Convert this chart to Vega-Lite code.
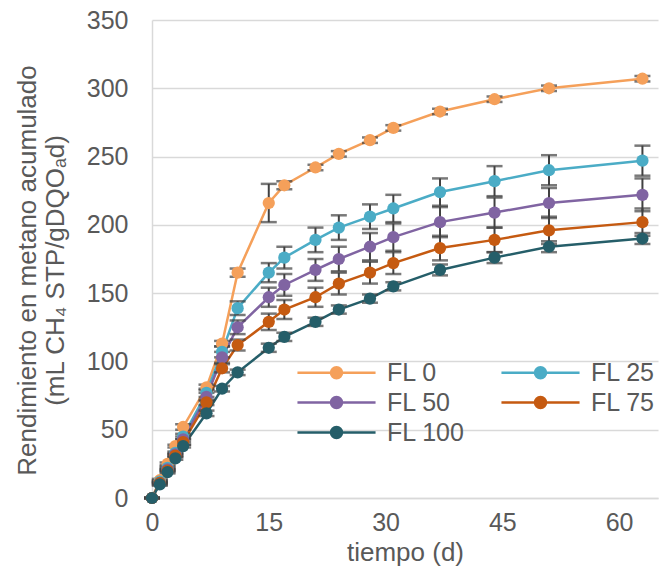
{
  "$schema": "https://vega.github.io/schema/vega-lite/v6.json",
  "width": 506,
  "height": 478,
  "autosize": {"type": "none"},
  "padding": {"left": 152, "top": 20, "right": 7, "bottom": 80},
  "background": "white",
  "config": {
    "view": {"stroke": null},
    "font": "Liberation Sans",
    "axis": {"labelColor": "#595959", "titleColor": "#595959", "labelFontSize": 25, "titleFontSize": 26, "titleFontWeight": "normal", "ticks": false, "tickSize": 0, "domainColor": "#D9D9D9", "domainWidth": 1.5, "gridColor": "#D9D9D9", "gridWidth": 1.5, "labelFlush": false}
  },
  "data": {"values": [
    {"s": "FL 0", "t": 0, "v": 0, "e": 0}, {"s": "FL 0", "t": 1, "v": 13, "e": 1}, {"s": "FL 0", "t": 2, "v": 25, "e": 1}, {"s": "FL 0", "t": 3, "v": 38, "e": 1}, {"s": "FL 0", "t": 4, "v": 52, "e": 2}, {"s": "FL 0", "t": 7, "v": 81, "e": 2}, {"s": "FL 0", "t": 9, "v": 113, "e": 2}, {"s": "FL 0", "t": 11, "v": 165, "e": 3}, {"s": "FL 0", "t": 15, "v": 216, "e": 14}, {"s": "FL 0", "t": 17, "v": 229, "e": 3}, {"s": "FL 0", "t": 21, "v": 242, "e": 2}, {"s": "FL 0", "t": 24, "v": 252, "e": 2}, {"s": "FL 0", "t": 28, "v": 262, "e": 2}, {"s": "FL 0", "t": 31, "v": 271, "e": 2}, {"s": "FL 0", "t": 37, "v": 283, "e": 2}, {"s": "FL 0", "t": 44, "v": 292, "e": 2}, {"s": "FL 0", "t": 51, "v": 300, "e": 2}, {"s": "FL 0", "t": 63, "v": 307, "e": 2},
    {"s": "FL 25", "t": 0, "v": 0, "e": 0}, {"s": "FL 25", "t": 1, "v": 12, "e": 1}, {"s": "FL 25", "t": 2, "v": 22, "e": 1}, {"s": "FL 25", "t": 3, "v": 33, "e": 1}, {"s": "FL 25", "t": 4, "v": 45, "e": 2}, {"s": "FL 25", "t": 7, "v": 77, "e": 3}, {"s": "FL 25", "t": 9, "v": 107, "e": 4}, {"s": "FL 25", "t": 11, "v": 139, "e": 5}, {"s": "FL 25", "t": 15, "v": 165, "e": 7}, {"s": "FL 25", "t": 17, "v": 176, "e": 8}, {"s": "FL 25", "t": 21, "v": 189, "e": 9}, {"s": "FL 25", "t": 24, "v": 198, "e": 9}, {"s": "FL 25", "t": 28, "v": 206, "e": 9}, {"s": "FL 25", "t": 31, "v": 212, "e": 10}, {"s": "FL 25", "t": 37, "v": 224, "e": 10}, {"s": "FL 25", "t": 44, "v": 232, "e": 11}, {"s": "FL 25", "t": 51, "v": 240, "e": 11}, {"s": "FL 25", "t": 63, "v": 247, "e": 11},
    {"s": "FL 50", "t": 0, "v": 0, "e": 0}, {"s": "FL 50", "t": 1, "v": 11, "e": 1}, {"s": "FL 50", "t": 2, "v": 21, "e": 1}, {"s": "FL 50", "t": 3, "v": 32, "e": 1}, {"s": "FL 50", "t": 4, "v": 43, "e": 2}, {"s": "FL 50", "t": 7, "v": 74, "e": 3}, {"s": "FL 50", "t": 9, "v": 103, "e": 4}, {"s": "FL 50", "t": 11, "v": 125, "e": 5}, {"s": "FL 50", "t": 15, "v": 147, "e": 7}, {"s": "FL 50", "t": 17, "v": 156, "e": 8}, {"s": "FL 50", "t": 21, "v": 167, "e": 8}, {"s": "FL 50", "t": 24, "v": 175, "e": 9}, {"s": "FL 50", "t": 28, "v": 184, "e": 10}, {"s": "FL 50", "t": 31, "v": 191, "e": 10}, {"s": "FL 50", "t": 37, "v": 202, "e": 11}, {"s": "FL 50", "t": 44, "v": 209, "e": 11}, {"s": "FL 50", "t": 51, "v": 216, "e": 11}, {"s": "FL 50", "t": 63, "v": 222, "e": 12},
    {"s": "FL 75", "t": 0, "v": 0, "e": 0}, {"s": "FL 75", "t": 1, "v": 11, "e": 1}, {"s": "FL 75", "t": 2, "v": 20, "e": 1}, {"s": "FL 75", "t": 3, "v": 31, "e": 1}, {"s": "FL 75", "t": 4, "v": 41, "e": 2}, {"s": "FL 75", "t": 7, "v": 70, "e": 2}, {"s": "FL 75", "t": 9, "v": 95, "e": 3}, {"s": "FL 75", "t": 11, "v": 112, "e": 4}, {"s": "FL 75", "t": 15, "v": 129, "e": 6}, {"s": "FL 75", "t": 17, "v": 138, "e": 7}, {"s": "FL 75", "t": 21, "v": 147, "e": 7}, {"s": "FL 75", "t": 24, "v": 157, "e": 8}, {"s": "FL 75", "t": 28, "v": 165, "e": 8}, {"s": "FL 75", "t": 31, "v": 172, "e": 8}, {"s": "FL 75", "t": 37, "v": 183, "e": 9}, {"s": "FL 75", "t": 44, "v": 189, "e": 9}, {"s": "FL 75", "t": 51, "v": 196, "e": 10}, {"s": "FL 75", "t": 63, "v": 202, "e": 10},
    {"s": "FL 100", "t": 0, "v": 0, "e": 0}, {"s": "FL 100", "t": 1, "v": 10, "e": 1}, {"s": "FL 100", "t": 2, "v": 19, "e": 1}, {"s": "FL 100", "t": 3, "v": 29, "e": 1}, {"s": "FL 100", "t": 4, "v": 38, "e": 1}, {"s": "FL 100", "t": 7, "v": 62, "e": 2}, {"s": "FL 100", "t": 9, "v": 80, "e": 2}, {"s": "FL 100", "t": 11, "v": 92, "e": 2}, {"s": "FL 100", "t": 15, "v": 110, "e": 3}, {"s": "FL 100", "t": 17, "v": 118, "e": 3}, {"s": "FL 100", "t": 21, "v": 129, "e": 3}, {"s": "FL 100", "t": 24, "v": 138, "e": 3}, {"s": "FL 100", "t": 28, "v": 146, "e": 3}, {"s": "FL 100", "t": 31, "v": 155, "e": 3}, {"s": "FL 100", "t": 37, "v": 167, "e": 4}, {"s": "FL 100", "t": 44, "v": 176, "e": 4}, {"s": "FL 100", "t": 51, "v": 184, "e": 4}, {"s": "FL 100", "t": 63, "v": 190, "e": 4}
  ]},
  "encoding": {
    "x": {"field": "t", "type": "quantitative", "scale": {"domain": [0, 65], "nice": false}, "axis": {"values": [0, 15, 30, 45, 60], "title": "tiempo (d)", "grid": false, "labelPadding": 12, "titlePadding": 4}},
    "y": {"field": "v", "type": "quantitative", "scale": {"domain": [0, 350], "nice": false}, "axis": {"values": [0, 50, 100, 150, 200, 250, 300, 350], "grid": true, "labelPadding": 24, "titlePadding": 18, "titleLineHeight": 28, "titleY": 250, "title": ["Rendimiento en metano acumulado", "(mL CH₄ STP/gDQOₐd)"]}}
  },
  "layer": [
    {
      "mark": {"type": "line", "strokeWidth": 2.5},
      "encoding": {
        "color": {"field": "s", "type": "nominal", "scale": {"domain": ["FL 0", "FL 25", "FL 50", "FL 75", "FL 100"], "range": ["#F5A05A", "#4BACC6", "#8064A2", "#C55A11", "#255E69"]}, "legend": {"orient": "none", "direction": "horizontal", "legendX": 172, "legendY": 340, "columns": 2, "columnPadding": 31, "rowPadding": 4, "padding": 0, "title": null, "symbolType": "M-7.1,0H7.1M1,0A1,1,0,1,1,-1,0A1,1,0,1,1,1,0Z", "symbolSize": 121, "symbolStrokeWidth": 2.5, "labelOffset": 38, "labelFontSize": 25, "labelColor": "#595959", "encode": {"symbols": {"update": {"fill": {"scale": "color", "field": "value"}, "stroke": {"scale": "color", "field": "value"}, "opacity": {"value": 1}}}}}}
      }
    },
    {
      "mark": {"type": "errorbar", "ticks": {"size": 16, "thickness": 2.5}, "thickness": 2, "color": "#404040"},
      "encoding": {
        "yError": {"field": "e"},
        "detail": {"field": "s", "type": "nominal"}
      }
    },
    {
      "mark": {"type": "point", "filled": true, "size": 150, "opacity": 1},
      "encoding": {
        "color": {"field": "s", "type": "nominal", "scale": {"domain": ["FL 0", "FL 25", "FL 50", "FL 75", "FL 100"], "range": ["#F5A05A", "#4BACC6", "#8064A2", "#C55A11", "#255E69"]}, "legend": {"orient": "none", "direction": "horizontal", "legendX": 172, "legendY": 340, "columns": 2, "columnPadding": 31, "rowPadding": 4, "padding": 0, "title": null, "symbolType": "M-7.1,0H7.1M1,0A1,1,0,1,1,-1,0A1,1,0,1,1,1,0Z", "symbolSize": 121, "symbolStrokeWidth": 2.5, "labelOffset": 38, "labelFontSize": 25, "labelColor": "#595959", "encode": {"symbols": {"update": {"fill": {"scale": "color", "field": "value"}, "stroke": {"scale": "color", "field": "value"}, "opacity": {"value": 1}}}}}}
      }
    }
  ]
}
